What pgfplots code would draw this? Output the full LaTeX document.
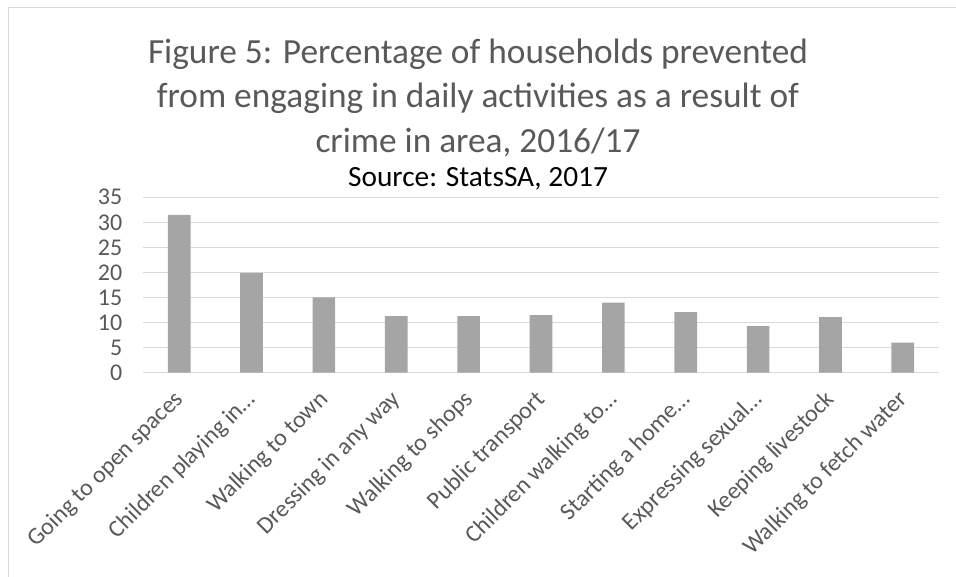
\documentclass[border=0pt]{standalone}
\usepackage{fontspec}
\setmainfont{Carlito}
\usepackage{pgfplots}
\pgfplotsset{compat=1.18}
\definecolor{bargray}{HTML}{A5A5A5}
\definecolor{txtgray}{HTML}{595959}
\definecolor{gridgray}{HTML}{D9D9D9}

\begin{document}
\begin{tikzpicture}
% canvas: 956 x 577 px at 0.75pt per px, origin top-left
\path[use as bounding box] (0,0) rectangle (717pt,-432.75pt);
\draw[gridgray, line width=0.75pt] (6pt,-432.75pt) -- (6pt,-6pt) -- (717pt,-6pt);

\begin{scope}[every node/.style={anchor=base, text=txtgray, inner sep=0pt, font=\fontsize{26.5}{32}\selectfont}]
\node at (358.5pt,-48pt) {Figure 5: Percentage of households prevented};
\node at (358.5pt,-81pt) {from engaging in daily activities as a result of};
\node at (358.5pt,-114.75pt) {crime in area, 2016/17};
\end{scope}
\node[anchor=base, inner sep=0pt, font=\fontsize{22}{26}\selectfont] at (358.5pt,-140.25pt) {Source: StatsSA, 2017};

\begin{axis}[
  at={(107.25pt,-279.5pt)}, anchor=south west,
  scale only axis, width=597pt, height=131.55pt,
  xmin=-0.5, xmax=10.5, ymin=0, ymax=35,
  ytick={0,5,...,35},
  xtick={0,...,10},
  xticklabels={Going to open spaces, Children playing in…, Walking to town,
    Dressing in any way, Walking to shops, Public transport,
    Children walking to…, Starting a home…, Expressing sexual…,
    Keeping livestock, Walking to fetch water},
  ymajorgrids,
  grid style={gridgray, line width=0.75pt},
  axis line style={draw=none},
  major tick length=0pt,
  tick label style={font=\fontsize{18}{21}\selectfont, text=txtgray},
  /pgf/number format/assume math mode=true,
  yticklabel style={xshift=-12pt},
  xticklabel style={xshift=-5pt, yshift=-7pt, rotate=45, anchor=north east},
  ybar, bar width=17pt,
  clip=false,
]
\addplot[fill=bargray, draw=none] coordinates {
  (0,31.5) (1,19.9) (2,15.0) (3,11.3) (4,11.3) (5,11.5)
  (6,14.0) (7,12.1) (8,9.3) (9,11.1) (10,6.0)
};
\end{axis}
\end{tikzpicture}
\end{document}
